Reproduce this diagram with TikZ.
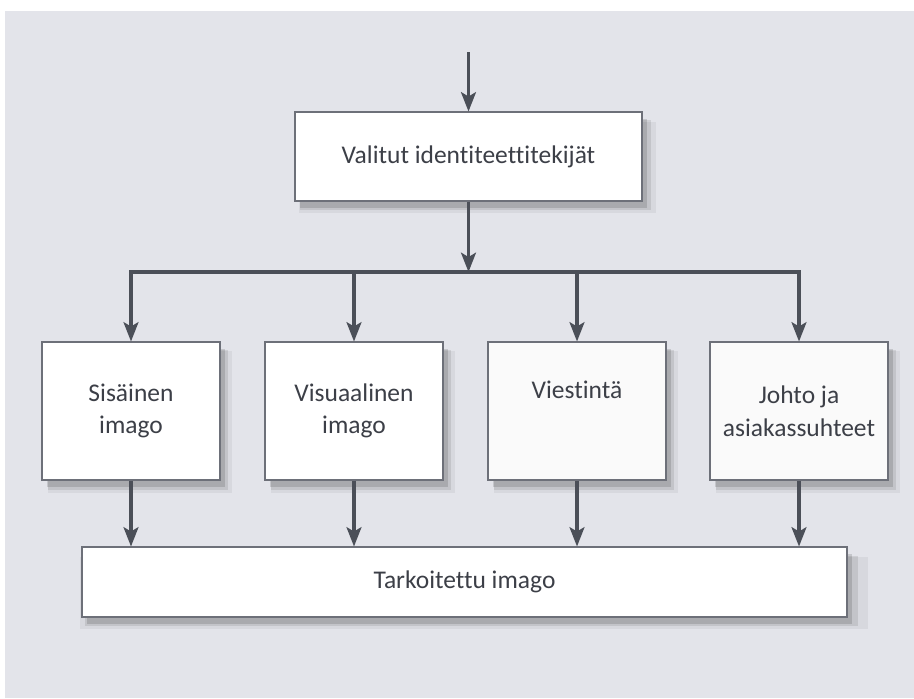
\documentclass[tikz,border=0pt]{standalone}
\usepackage{fontspec}
\setmainfont{Carlito}[Ligatures=NoCommon]
\usepackage{xcolor}
\usetikzlibrary{arrows.meta,shadows}

\definecolor{paper}{HTML}{E3E4EA}
\definecolor{inkline}{HTML}{4B4F58}
\definecolor{inktext}{HTML}{3C3F47}
\definecolor{frame}{HTML}{6D7079}

\tikzset{
	box/.style={draw=frame, line width=0.6pt, fill=white, align=center,
		text=inktext, inner sep=0pt,
		general shadow={fill=black, opacity=0.05, shadow xshift=5pt, shadow yshift=-6pt, shadow scale=1.03},
		general shadow={fill=black, opacity=0.09, shadow xshift=4pt, shadow yshift=-5pt, shadow scale=1.01},
		general shadow={fill=black, opacity=0.13, shadow xshift=3pt, shadow yshift=-4pt}},
	smallbox/.style={box, minimum width=3.56cm, minimum height=2.76cm},
	flow/.style={draw=inkline, line width=1.8pt, line join=miter,
		-{Stealth[length=11pt, width=8.5pt, inset=2.5pt]}}
}

\begin{document}
\begin{tikzpicture}
	\fontsize{14.5}{18.5}\selectfont
	\useasboundingbox (0,0) rectangle (18.28,-13.96);
	\fill[white] (0,0) rectangle (18.28,-13.96);
	\fill[paper] (0.1,-0.22) rectangle (18.28,-13.96);

	\node[box, minimum width=6.94cm, minimum height=1.78cm] (valitut) at (9.37,-3.13) {Valitut identiteettitekijät};
	\node[box, minimum width=15.3cm, minimum height=1.4cm] (tarkoitettu) at (9.29,-11.64) {Tarkoitettu imago};

	\node[smallbox] (sisainen) at (2.62,-8.22) {Sisäinen\\imago};
	\node[smallbox] (visuaalinen) at (7.08,-8.22) {Visuaalinen\\imago};
	\node[smallbox, fill=gray!4] (viestinta) at (11.54,-8.22) {Viestintä\\\strut};
	\node[smallbox, fill=gray!4] (johto) at (15.98,-8.22) {Johto ja\\asiakassuhteet};

	\coordinate (tulo) at (9.37,-1.04);
	\coordinate (jako) at (9.37,-5.44);
	\draw[flow] (tulo) -- (valitut.north);
	\draw[flow] (valitut.south) -- (jako);

	\foreach \nm in {sisainen,visuaalinen,viestinta,johto}
	{
		\draw[flow] (jako) -| (\nm.north);
		\draw[flow] (\nm.south) -- (\nm.south |- tarkoitettu.north);
	}
\end{tikzpicture}
\end{document}
